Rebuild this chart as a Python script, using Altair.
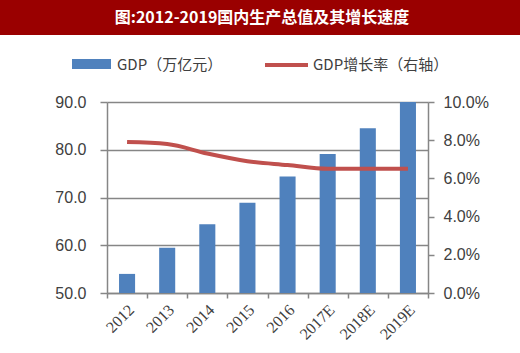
import altair as alt
import pandas as pd

years = ["2012", "2013", "2014", "2015", "2016", "2017E", "2018E", "2019E"]
gdp = [54.0, 59.5, 64.4, 68.9, 74.4, 79.1, 84.5, 90.0]
growth = [7.9, 7.8, 7.3, 6.9, 6.7, 6.5, 6.5, 6.5]
title_text = ["图:2012-2019国内生产总值及其增长速度"]
legend_labels = ["GDP（万亿元）", "GDP增长率（右轴）"]
left_ticks = [50, 60, 70, 80, 90]
right_ticks = [0, 2, 4, 6, 8, 10]
gdp_base = 50

BLUE = "#4F81BD"
RED = "#C0504D"
GRAY = "#868686"
LABEL = "#404040"

df = pd.DataFrame({"year": years, "gdp": gdp, "growth": growth})

xenc = alt.X(
    "year:N",
    sort=years,
    scale=alt.Scale(paddingInner=0, paddingOuter=0),
    axis=alt.Axis(
        title=None,
        labelAngle=-45,
        labelAlign="right",
        labelBaseline="middle",
        tickBand="extent",
        tickSize=5,
        tickColor=GRAY,
        tickWidth=1.5,
        domainColor=GRAY,
        domainWidth=1.5,
        labelFont="Liberation Serif",
        labelFontSize=16,
        labelColor=LABEL,
        labelPadding=9,
        labelOffset=4,
        grid=False,
    ),
)

bars = alt.Chart(df).mark_bar(color=BLUE, width=alt.RelativeBandSize(0.4)).encode(
    x=xenc,
    y=alt.Y(
        "gdp:Q",
        scale=alt.Scale(domain=[50, 90], zero=False),
        axis=alt.Axis(
            title=None,
            values=left_ticks,
            format=".1f",
            grid=True,
            gridColor=GRAY,
            gridWidth=1.5,
            tickSize=7,
            tickColor=GRAY,
            tickWidth=1.5,
            domainColor=GRAY,
            domainWidth=1.5,
            labelFont="Liberation Sans",
            labelFontSize=16,
            labelColor=LABEL,
            labelPadding=14,
        ),
    ),
    y2=alt.Y2(datum=gdp_base),
)

line = alt.Chart(df).mark_line(color=RED, strokeWidth=4, interpolate="monotone").encode(
    x=alt.X("year:N", sort=years),
    y=alt.Y(
        "growth:Q",
        scale=alt.Scale(domain=[0, 10]),
        axis=alt.Axis(
            title=None,
            orient="right",
            values=right_ticks,
            labelExpr="format(datum.value, '.1f') + '%'",
            grid=False,
            tickSize=6,
            tickColor=GRAY,
            tickWidth=1.5,
            domainColor=GRAY,
            domainWidth=1.5,
            labelFont="Liberation Sans",
            labelFontSize=16,
            labelColor=LABEL,
            labelPadding=9,
        ),
    ),
)

tdf = pd.DataFrame({"t": title_text})
title_bg = alt.Chart(tdf).mark_rect(color="#9A0000").encode(
    x=alt.value(-107), x2=alt.value(413), y=alt.value(-102), y2=alt.value(-67)
)
title_txt = alt.Chart(tdf).mark_text(
    color="white", font="Noto Sans CJK SC", fontSize=16, fontWeight="bold",
    align="center", baseline="middle",
).encode(text="t:N", x=alt.value(155), y=alt.value(-84))

ldf1 = pd.DataFrame({"t": [legend_labels[0]]})
ldf2 = pd.DataFrame({"t": [legend_labels[1]]})
leg_rect = alt.Chart(ldf1).mark_rect(color=BLUE).encode(
    x=alt.value(-35), x2=alt.value(4), y=alt.value(-43), y2=alt.value(-33)
)
leg_txt1 = alt.Chart(ldf1).mark_text(
    color=LABEL, font="Noto Sans CJK SC", fontSize=15, align="left", baseline="middle"
).encode(text="t:N", x=alt.value(10), y=alt.value(-37))
leg_rule = alt.Chart(ldf2).mark_rule(color=RED, strokeWidth=4).encode(
    x=alt.value(158), x2=alt.value(201), y=alt.value(-37)
)
leg_txt2 = alt.Chart(ldf2).mark_text(
    color=LABEL, font="Noto Sans CJK SC", fontSize=15, align="left", baseline="middle"
).encode(text="t:N", x=alt.value(206), y=alt.value(-37))

chart = (
    alt.layer(bars, line, title_bg, title_txt, leg_rect, leg_txt1, leg_rule, leg_txt2)
    .resolve_scale(y="independent")
    .properties(
        width=321,
        height=191,
        padding={"left": 107, "top": 102, "right": 92, "bottom": 60},
        autosize=alt.AutoSizeParams(type="none"),
        background="white",
    )
    .configure_view(stroke=None)
)

chart.save("out.html", embed_options={"renderer": "svg", "actions": False})
